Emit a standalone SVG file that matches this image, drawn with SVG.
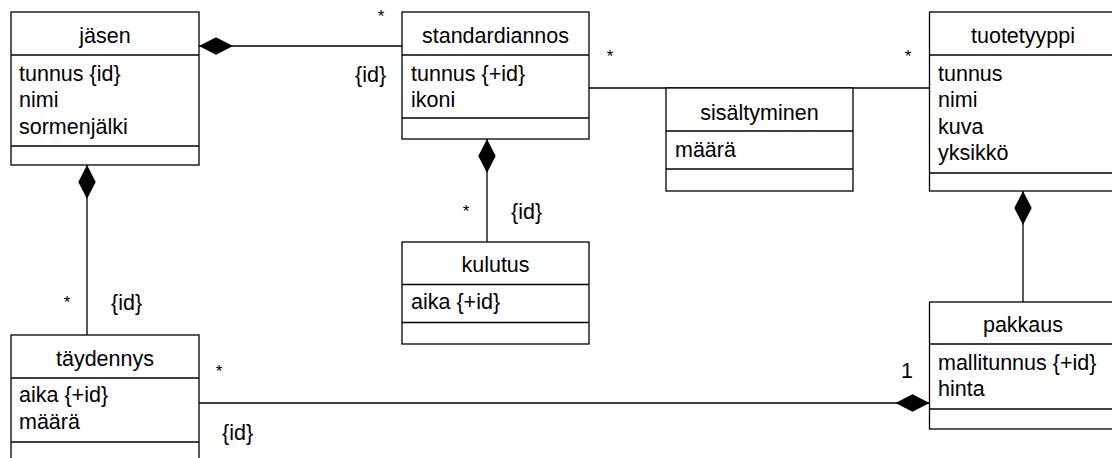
<svg xmlns="http://www.w3.org/2000/svg" width="1112" height="458" viewBox="0 0 1112 458">
<style>
.box{fill:#fff;stroke:#000;stroke-width:1.3}
.sep{stroke:#000;stroke-width:1.3}
.conn{fill:none;stroke:#000;stroke-width:1.3}
text{font-family:"Liberation Sans",Arial,sans-serif;font-size:21.5px;fill:#000}
.title{text-anchor:middle}
.star{font-size:17px;text-anchor:middle}
</style>
<defs>
<marker id="diamond" markerUnits="userSpaceOnUse" viewBox="0 -9 35 18" markerWidth="35" markerHeight="18" refX="0" refY="0" orient="auto">
<path d="M0,0 L17,-8.7 L34,0 L17,8.7 Z" fill="#000"/>
</marker>
</defs>
<rect width="1112" height="458" fill="#fff"/>
<g id="connectors">
<path class="conn" d="M199,46 L402,46" marker-start="url(#diamond)"/>
<path class="conn" d="M87,165 L87,335" marker-start="url(#diamond)"/>
<path class="conn" d="M487,139 L487,242" marker-start="url(#diamond)"/>
<path class="conn" d="M589,88 L929,88"/>
<path class="conn" d="M1023,191 L1023,302" marker-start="url(#diamond)"/>
<path class="conn" d="M929.5,403 L199,403" marker-start="url(#diamond)"/>
<text class="star" x="381" y="21.5">*</text>
<text x="355" y="82">{id}</text>
<text class="star" x="610" y="62">*</text>
<text class="star" x="908" y="62">*</text>
<text class="star" x="466" y="217">*</text>
<text x="511" y="219">{id}</text>
<text class="star" x="67" y="308">*</text>
<text x="111" y="310">{id}</text>
<text class="star" x="219" y="377">*</text>
<text x="222" y="440">{id}</text>
<text x="901" y="378">1</text>
</g>
<g id="jasen">
<rect class="box" x="11" y="12" width="188" height="153"/>
<line class="sep" x1="11" y1="55" x2="199" y2="55"/>
<line class="sep" x1="11" y1="146" x2="199" y2="146"/>
<text class="title" x="105" y="43">jäsen</text>
<text x="19" y="80.5">tunnus {id}</text>
<text x="19" y="107">nimi</text>
<text x="19" y="133.5">sormenjälki</text>
</g>
<g id="standardiannos">
<rect class="box" x="402" y="12" width="187" height="127"/>
<line class="sep" x1="402" y1="55" x2="589" y2="55"/>
<line class="sep" x1="402" y1="118" x2="589" y2="118"/>
<text class="title" x="495.5" y="43">standardiannos</text>
<text x="411" y="80.5">tunnus {+id}</text>
<text x="411" y="107">ikoni</text>
</g>
<g id="tuotetyyppi">
<rect class="box" x="929.5" y="12" width="188" height="179"/>
<line class="sep" x1="929.5" y1="55" x2="1117.5" y2="55"/>
<line class="sep" x1="929.5" y1="173" x2="1117.5" y2="173"/>
<text class="title" x="1023" y="43">tuotetyyppi</text>
<text x="938" y="80.5">tunnus</text>
<text x="938" y="107">nimi</text>
<text x="938" y="133.5">kuva</text>
<text x="938" y="160">yksikkö</text>
</g>
<g id="sisaltyminen">
<rect class="box" x="666" y="88" width="187" height="103"/>
<line class="sep" x1="666" y1="131" x2="853" y2="131"/>
<line class="sep" x1="666" y1="169" x2="853" y2="169"/>
<text class="title" x="759.5" y="120">sisältyminen</text>
<text x="675" y="157">määrä</text>
</g>
<g id="kulutus">
<rect class="box" x="402" y="242" width="187" height="102"/>
<line class="sep" x1="402" y1="284.5" x2="589" y2="284.5"/>
<line class="sep" x1="402" y1="322.5" x2="589" y2="322.5"/>
<text class="title" x="495.5" y="272">kulutus</text>
<text x="411" y="309">aika {+id}</text>
</g>
<g id="taydennys">
<rect class="box" x="11" y="335" width="188" height="135"/>
<line class="sep" x1="11" y1="378" x2="199" y2="378"/>
<line class="sep" x1="11" y1="442" x2="199" y2="442"/>
<text class="title" x="105" y="366">täydennys</text>
<text x="19" y="402">aika {+id}</text>
<text x="19" y="428.5">määrä</text>
</g>
<g id="pakkaus">
<rect class="box" x="929.5" y="302" width="188" height="127"/>
<line class="sep" x1="929.5" y1="344" x2="1117.5" y2="344"/>
<line class="sep" x1="929.5" y1="409" x2="1117.5" y2="409"/>
<text class="title" x="1023" y="332">pakkaus</text>
<text x="938" y="370">mallitunnus {+id}</text>
<text x="938" y="396">hinta</text>
</g>
</svg>
